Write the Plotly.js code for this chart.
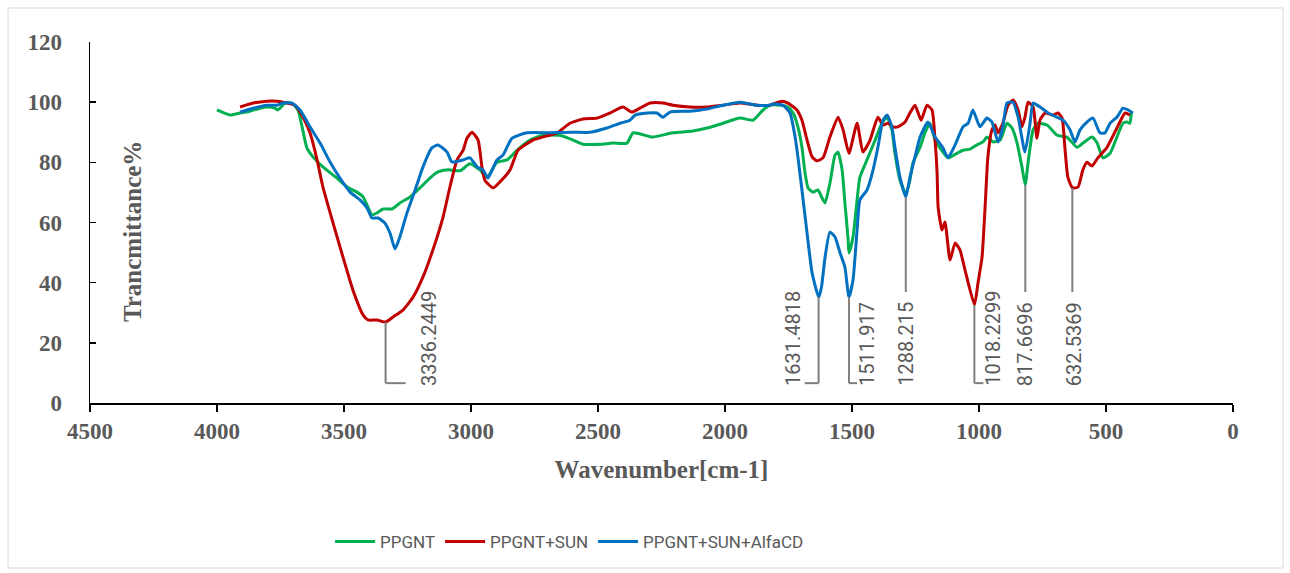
<!DOCTYPE html>
<html>
<head>
<meta charset="utf-8">
<script src="https://cdn.plot.ly/plotly-3.0.1.min.js"></script>
<style>html,body{margin:0;padding:0;background:#fff;}#chart{width:1290px;height:573px;}</style>
</head>
<body>
<div id="chart"></div>
<script>
// ---- data (wavenumber, transmittance %) ----
const seriesNames = ["PPGNT", "PPGNT+SUN", "PPGNT+SUN+AlfaCD"];

const wnPPGNT = [4000,3949,3909,3870,3831,3803,3772,3760,3732,3705,3681,3665,3646,3622,3583,3528,3488,3449,3425,3406,3390,3370,3346,3311,3280,3240,3201,3161,3130,3091,3043,3004,2965,2937,2898,2858,2819,2768,2717,2650,2598,2559,2492,2441,2386,2362,2307,2283,2205,2126,2071,2008,1941,1890,1850,1823,1783,1752,1732,1713,1697,1685,1673,1654,1634,1614,1606,1587,1567,1555,1539,1528,1516,1512,1496,1480,1469,1441,1409,1382,1362,1343,1331,1311,1288,1272,1260,1232,1213,1193,1173,1154,1122,1087,1063,1035,1008,984,969,945,917,890,870,850,831,818,807,787,768,732,693,654,614,591,555,535,512,484,457,433,417,406,400];
const tPPGNT = [97.4,95.7,96.4,97,98,98.4,98,97.4,99.7,99.7,97.4,91.8,84.8,81.8,78.5,74.8,71.8,70.1,68.5,65.2,62.5,63.2,64.5,64.5,66.5,68.5,71.5,74.8,76.8,77.5,77.2,79.5,77.5,75,80,80.8,84,87.4,89,89,87.4,86,86,86.4,86.4,89.8,88.8,88.4,89.8,90.4,91.4,93,94.7,94,97.4,99,99,98.4,96.4,91.8,85,76.5,71.5,70.1,70.8,67.5,66.5,73,82.4,83.4,77.5,66.5,55.2,49.9,55.2,67.5,75,80.8,87.4,93,95,90.8,83,74,69.5,74,79.8,85,89.8,93,87.4,84.8,81.5,83,84,84.4,85.8,86.8,88.4,86.8,87.4,93,91.4,86.4,78.5,72.5,79.8,90.8,93,92.4,89,88.4,85,86.4,88.4,86.4,81.5,83,88.4,93,93.4,93,96.7];

const wnSUN = [3909,3858,3803,3764,3724,3693,3661,3634,3606,3583,3543,3504,3465,3425,3406,3370,3336,3307,3268,3228,3189,3150,3110,3083,3055,3031,3016,2996,2972,2957,2945,2913,2886,2846,2815,2756,2701,2661,2610,2559,2504,2453,2402,2366,2335,2295,2244,2205,2138,2071,2008,1941,1874,1823,1811,1776,1752,1717,1697,1677,1657,1638,1614,1587,1555,1535,1512,1480,1457,1429,1398,1378,1358,1339,1319,1291,1272,1252,1228,1205,1185,1173,1165,1161,1146,1134,1114,1094,1075,1055,1018,1004,988,976,965,949,937,925,906,886,866,846,831,819,807,787,772,760,740,709,689,673,661,650,632,610,591,575,555,532,496,457,425,406];
const tSUN = [98.4,99.7,100.3,100.3,99.7,99,95,89.8,80.8,71.8,59.8,48.5,37.6,29.3,27.6,27.6,26.9,28.6,30.9,35.2,41.9,50.9,61.8,71.8,80.8,84,88,90,87.4,78.5,74,71.5,73.5,77.5,84,87.4,88.8,89.8,93,94.4,94.7,96.4,98.4,96.7,98,99.7,99.7,99,98.4,98.4,99,99.7,99,99,99.4,100.3,99.7,97.4,94,87.4,81.8,80.5,81.5,88.4,95,90.8,83,93,83.4,87.4,95,92.4,93,91.8,91.8,93.4,96.4,99,94,99,97.4,87.4,76.5,65.2,57.5,60.2,47.5,53.2,50.9,44.2,32.6,39.9,48.5,65.2,81.8,90.8,92.4,89.8,93,99,100.7,97.4,91.8,95,100,98.4,88,94,96.4,95.7,96.4,94.7,84,75,71.5,71.8,77.5,80,78.8,81.5,85,91.4,96.4,95.7];

const wnCD = [3909,3858,3803,3764,3740,3705,3673,3634,3594,3555,3516,3476,3437,3409,3390,3366,3339,3319,3299,3280,3252,3220,3189,3154,3130,3094,3075,3031,3004,2976,2953,2933,2898,2874,2839,2780,2689,2598,2531,2465,2413,2374,2354,2307,2268,2244,2217,2138,2071,2008,1941,1874,1823,1811,1772,1744,1724,1713,1697,1677,1657,1631,1620,1606,1587,1567,1547,1528,1512,1496,1480,1469,1441,1417,1398,1378,1362,1343,1331,1311,1288,1272,1252,1232,1201,1173,1142,1122,1094,1063,1043,1024,996,969,949,925,906,890,866,846,819,799,787,760,728,693,669,642,622,602,575,551,524,504,484,457,433,413,394];
const tCD = [96.7,98,99,99,99.7,99.7,97.4,91.8,86.4,80.1,74.8,70.1,67.5,64.8,61.5,61.5,59.8,56.5,51.2,55.2,63.2,70.8,78.5,84.8,85.8,83.4,80.1,80.8,81.5,78.5,77.5,74.8,80.8,82.4,88,89.8,89.8,90,90,91.4,93,94,95.7,96.4,96.4,95,96.7,97,97.7,99,100,99,99,99.4,99,96.4,88.4,81.8,70.8,56.5,43.2,35.2,38.6,48.5,56.8,55.2,49.9,45.2,35.2,40.9,57.5,67.5,70.8,77.5,85,94,95.7,91.8,85,75,68.5,75,81.8,88.4,93.4,88.4,84.8,81.5,85.8,91.8,93,97.4,91.8,94.7,93.4,86.8,91.8,99.7,100,95,83.4,93,99.7,98.4,96.4,95,94,90.8,86.8,90.8,93.4,94.7,89.8,89.8,93,95,98,97.4,96.4];

// peak labels
const peakWn = [3336.2449, 1631.4818, 1511.917, 1288.215, 1018.2299, 817.6696, 632.5369];
const peakLabels = ["3336.2449", "1631.4818", "1511.917", "1288.215", "1018.2299", "817.6696", "632.5369"];
const peakT = [26.9, 35.2, 35.2, 68.5, 32.6, 72.5, 71.5];

// ---- styling ----
const colors = ["#00B050", "#C00000", "#0070C0"];
const gray = "#595959";
const serif = "Liberation Serif, Times New Roman, serif";
const sans = "Roboto, Liberation Sans, sans-serif";

const traces = [
  {x: wnPPGNT, y: tPPGNT, name: seriesNames[0], line: {color: colors[0]}},
  {x: wnSUN, y: tSUN, name: seriesNames[1], line: {color: colors[1]}},
  {x: wnCD, y: tCD, name: seriesNames[2], line: {color: colors[2]}}
].map(t => Object.assign(t, {type: "scatter", mode: "lines", line: Object.assign(t.line, {width: 3, shape: "spline", smoothing: 0.5}), hoverinfo: "x+y+name"}));

// leader-line layout per label
const leaderStyle = [
  {long: true, hx: 20, tx: 44},
  {long: true, hx: -14, tx: -25},
  {long: true, hx: 8, tx: 18},
  {long: false, hx: 0, tx: 0},
  {long: true, hx: 9, tx: 19},
  {long: false, hx: 0, tx: 0},
  {long: false, hx: 0, tx: 2}
];

const pxPerWn = 1143 / 4500;
const shapes = [];
const annotations = [];
peakWn.forEach((w, i) => {
  const st = leaderStyle[i];
  const yEnd = st.long ? 6.6 : 36.9;
  shapes.push({type: "line", xref: "x", yref: "y", x0: w, x1: w, y0: peakT[i], y1: yEnd, line: {color: "#7F7F7F", width: 2}});
  if (st.hx !== 0) {
    shapes.push({type: "line", xref: "x", yref: "y", x0: w, x1: w - st.hx / pxPerWn, y0: yEnd, y1: yEnd, line: {color: "#7F7F7F", width: 2}});
  }
  annotations.push({
    x: w, y: 5, xref: "x", yref: "y", text: peakLabels[i], showarrow: false,
    textangle: -90, xanchor: "center", yanchor: "bottom", xshift: st.tx,
    font: {family: sans, size: 20, color: gray}
  });
});

// y-axis title placed inside the plot, as in the reference
annotations.push({
  xref: "paper", yref: "paper", x: 0.0367, y: 0.476, text: "Trancmittance%",
  showarrow: false, textangle: -90, xanchor: "center", yanchor: "middle",
  font: {family: serif, size: 25, color: gray, weight: "bold"}
});

// chart-area border
shapes.push({type: "rect", xref: "paper", yref: "paper", x0: -0.0717, x1: 1.0437, y0: -0.457, y1: 1.0942, line: {color: "#D9D9D9", width: 1}, fillcolor: "rgba(0,0,0,0)", layer: "below"});

const layout = {
  width: 1290, height: 573,
  margin: {l: 90, r: 57, t: 42, b: 170, pad: 0},
  paper_bgcolor: "#fff", plot_bgcolor: "#fff",
  showlegend: true,
  legend: {orientation: "h", x: 0.21, xanchor: "left", y: -0.385, yanchor: "middle",
           font: {family: sans, size: 17, color: gray}, itemwidth: 40, tracegroupgap: 0},
  xaxis: {
    range: [4500, 0], dtick: 500, tick0: 0, showgrid: false, zeroline: false,
    showline: true, linecolor: "#000", linewidth: 1.5, ticks: "outside", ticklen: 7, tickcolor: "#000", tickwidth: 1.5,
    tickfont: {family: serif, size: 23, color: gray, weight: "bold"},
    title: {text: "Wavenumber[cm-1]", font: {family: serif, size: 25, color: gray, weight: "bold"}, standoff: 17},
    automargin: false
  },
  yaxis: {
    range: [0, 120], dtick: 20, showgrid: false, zeroline: false,
    showline: true, linecolor: "#000", linewidth: 1.5, ticks: "inside", ticklen: 6, tickcolor: "#000", tickwidth: 1.5,
    tickfont: {family: serif, size: 23, color: gray, weight: "bold"},
    ticklabelstandoff: 22, automargin: false
  },
  shapes: shapes,
  annotations: annotations
};

Plotly.newPlot("chart", traces, layout, {displayModeBar: false, staticPlot: true});
</script>
</body>
</html>
